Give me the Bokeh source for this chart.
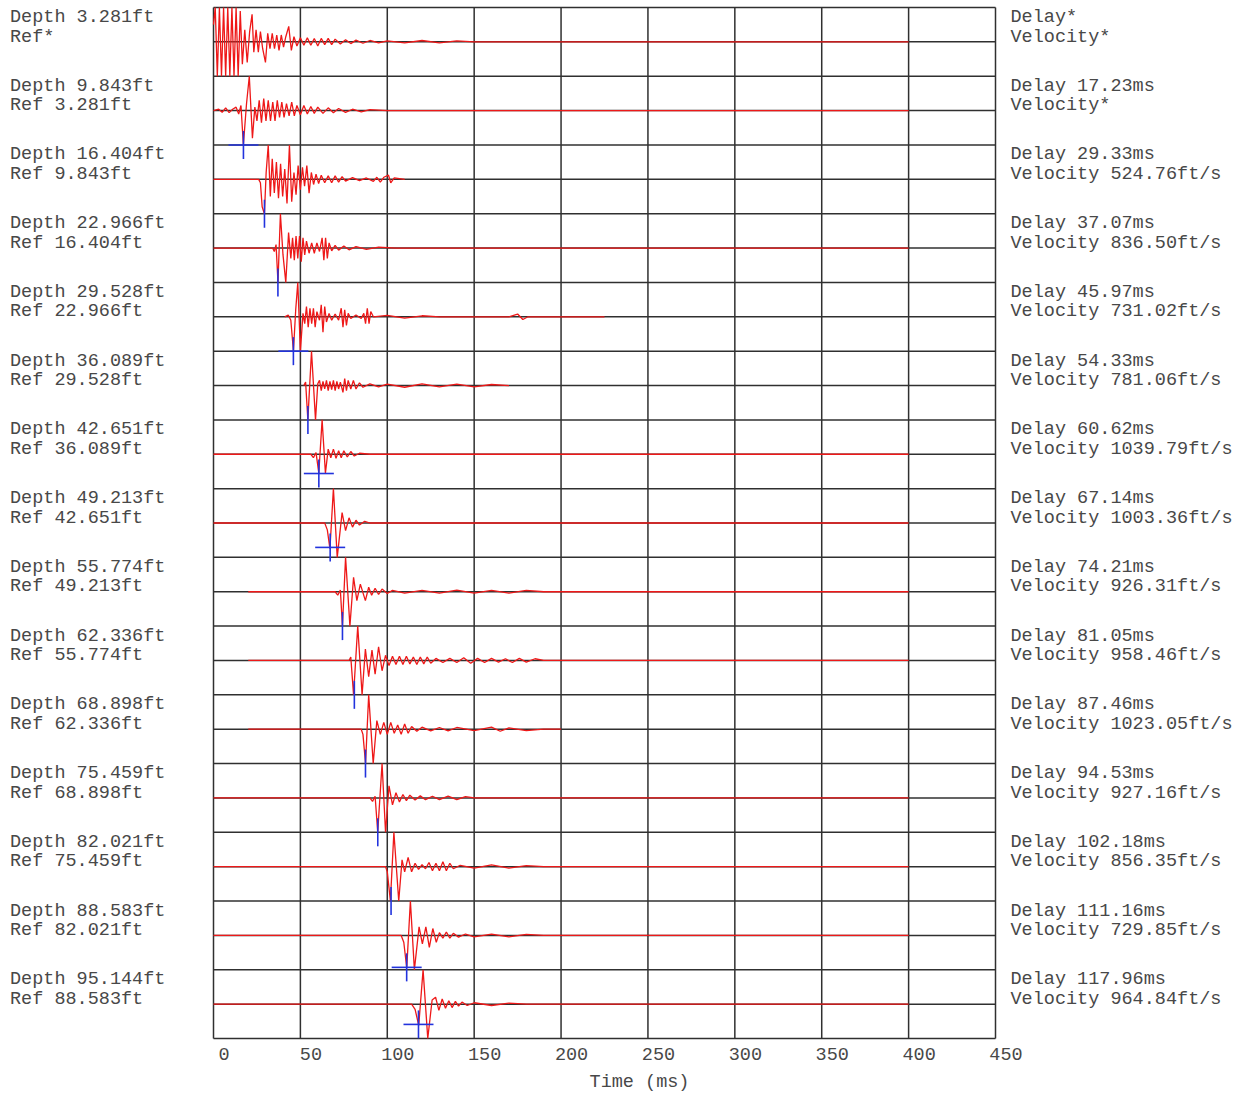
import numpy as np
from bokeh.plotting import figure
from bokeh.models import Range1d, ColumnDataSource
from bokeh.core.properties import value
from bokeh.embed import file_html
from bokeh.resources import INLINE

# ---------------- data ----------------
depths = ["3.281", "9.843", "16.404", "22.966", "29.528", "36.089", "42.651",
          "49.213", "55.774", "62.336", "68.898", "75.459", "82.021", "88.583", "95.144"]
delays = [None, "17.23", "29.33", "37.07", "45.97", "54.33", "60.62", "67.14",
          "74.21", "81.05", "87.46", "94.53", "102.18", "111.16", "117.96"]
velocities = [None, None, "524.76", "836.50", "731.02", "781.06", "1039.79", "1003.36",
              "926.31", "958.46", "1023.05", "927.16", "856.35", "729.85", "964.84"]
pick_times = [None, 17.23, 29.33, 37.07, 45.97, 54.33, 60.62, 67.14,
              74.21, 81.05, 87.46, 94.53, 102.18, 111.16, 117.96]
# amplitude of the pick mark (1 = half a row) and whether its horizontal bar shows
pick_amp = [None, -1, -1, -1, -1, -1, -0.56, -0.71, -1, -1, -1, -1, -1, -0.93, -0.59]
pick_bar = [False, True, False, False, True, False, True, True,
            False, False, False, False, False, True, True]
time_ticks = [0, 50, 100, 150, 200, 250, 300, 350, 400, 450]

# traces: (time ms, amplitude) ; amplitude 1 = half a row, values beyond +-1 are clipped
trace_01 = [(0, 0.5), (1, 1.3), (2.2, -1.3), (3.4, 1.3), (4.6, -1.3), (5.8, 1.3), (7.0, -1.3),
            (8.2, 1.3), (9.4, -1.3), (10.6, 1.3), (11.8, -1.3), (13.0, 1.2), (14.2, -1.3),
            (15.4, 0.9), (16.6, -0.65), (18.0, 0.35), (19.4, -0.6), (20.8, 0.3), (22.2, 0.8),
            (23.2, -0.3), (24.5, 0.35), (25.8, -0.3), (27.0, 0.3), (28.3, -0.2), (29.9, -0.6),
            (31.2, 0.25), (32.5, -0.2), (33.8, 0.25), (35.1, -0.2), (36.4, 0.2), (37.7, -0.25),
            (39.0, 0.2), (40.3, -0.15), (41.6, 0.15), (43.3, 0.45), (44.8, -0.25), (46.3, 0.15),
            (48, -0.12), (50, 0.12), (52, -0.1), (54, 0.12), (56, -0.1), (58, 0.1), (60, -0.12),
            (62, 0.1), (64, -0.08), (66, 0.1), (68, -0.08), (70, 0.08), (73, -0.06), (76, 0.06),
            (79, -0.05), (82, 0.05), (86, -0.04), (90, 0.04), (95, -0.03), (100, 0.03),
            (110, -0.03), (120, 0.04), (130, -0.03), (140, 0.03), (150, 0), (400, 0)]
trace_02 = [(0, 0), (3, 0.04), (5, -0.05), (7, 0.08), (9, -0.06), (11, 0.04), (13, 0.1),
            (14.5, -0.1), (15.8, 0.15), (17.2, -1.3), (19, 0.2), (20.6, 1.3), (22.4, -0.8),
            (23.8, 0.1), (25, -0.3), (26.3, 0.3), (27.6, -0.35), (28.9, 0.35), (30.2, -0.3),
            (31.5, 0.3), (32.8, -0.3), (34.1, 0.25), (35.4, -0.3), (36.7, 0.3), (38, -0.2),
            (39.3, 0.25), (40.6, -0.2), (42, 0.2), (43.5, -0.15), (45, 0.25), (46.5, -0.15),
            (48, 0.15), (50, -0.12), (52, 0.15), (54, -0.1), (56, 0.12), (58, -0.08), (60, 0.1),
            (63, -0.08), (66, 0.08), (69, -0.06), (72, 0.06), (76, -0.05), (80, 0.04),
            (85, -0.04), (90, 0.03), (100, 0), (400, 0)]
trace_03 = [(0, 0), (26, 0), (27, -0.1), (28, -0.8), (29.3, -1.3), (30.3, 0.2), (31.5, 1.3),
            (32.7, -0.5), (33.8, 0.6), (35, -0.4), (36.2, 0.5), (37.4, -0.55), (38.6, 0.45),
            (39.8, -0.5), (41, 0.3), (42.3, -0.7), (43.7, 1.3), (45, -0.65), (46.3, 0.2),
            (47.5, -0.45), (48.7, 0.4), (50, -0.3), (51.2, 0.35), (52.4, -0.2), (53.7, 0.4),
            (55, -0.4), (56.3, 0.2), (57.6, -0.15), (59, 0.15), (60.5, -0.12), (62, 0.12),
            (64, -0.1), (66, 0.1), (68, -0.1), (70, 0.1), (72, -0.08), (74, 0.08), (76, -0.05),
            (80, 0.05), (84, -0.04), (88, 0.04), (92, -0.06), (94, 0.06), (96, -0.08),
            (98, 0.06), (100.7, 0.12), (102, -0.1), (104, 0.04), (110, 0)]
trace_04 = [(0, 0), (34, 0), (35, -0.1), (36, 0.1), (37.1, -1.3), (38.5, 1.3), (40, -0.2),
            (41.6, -1.3), (43.2, 0.45), (44.5, -0.3), (45.5, 0.3), (46.5, -0.35), (47.5, 0.35),
            (48.5, -0.3), (49.5, 0.35), (50.5, -0.4), (51.5, 0.3), (52.5, -0.2), (53.5, 0.2),
            (55, -0.15), (56.5, 0.15), (58, -0.15), (59.5, 0.15), (61, -0.1), (62.5, 0.3),
            (63.5, -0.35), (64.5, 0.3), (65.5, -0.3), (66.5, 0.15), (68, -0.08), (70, 0.08),
            (72, -0.06), (75, 0.06), (78, -0.05), (82, 0.04), (88, -0.04), (95, 0.03),
            (105, 0), (400, 0)]
trace_05 = [(41, 0), (43, 0.05), (44.5, -0.1), (46, -1.3), (47.3, 0.2), (48.5, 1.3), (50, -1.3),
            (51.5, 0.1), (52.5, -0.2), (53.5, 0.3), (54.5, -0.3), (55.5, 0.25), (56.5, -0.2),
            (57.5, 0.25), (58.5, -0.3), (59.5, 0.15), (61, -0.1), (62, 0.35), (63, -0.45),
            (64, 0.3), (65, -0.15), (66.5, 0.1), (68, -0.1), (70, 0.08), (72, -0.1),
            (73.5, 0.25), (74.5, -0.3), (75.5, 0.2), (76.5, -0.25), (77.5, 0.1), (79, -0.05),
            (82, 0.05), (85, -0.05), (86.5, 0.1), (87.5, -0.2), (88.5, 0.25), (89.5, -0.2),
            (90.5, 0.15), (92, 0), (100, 0.04), (110, -0.04), (120, 0.03), (130, 0),
            (170, 0), (175, 0.08), (178, -0.08), (181, 0), (225, 0)]
trace_06 = [(52, 0), (53, 0.1), (54.3, -1.3), (56.4, 1.3), (58.7, -1.3), (60, 0.05), (61, 0.15),
            (62, -0.15), (63, 0.12), (64, -0.1), (65, 0.15), (66, -0.15), (67, 0.12), (68, -0.12),
            (69, 0.15), (70, -0.15), (71, 0.12), (72, -0.1), (73, 0.1), (74.5, -0.2), (75.5, 0.2),
            (76.5, -0.15), (77.5, 0.15), (79, -0.1), (80.5, 0.15), (82, -0.1), (84, 0.08),
            (86, -0.05), (90, 0.05), (95, -0.04), (100, 0.04), (110, -0.05), (120, 0.05),
            (130, -0.04), (140, 0.04), (150, -0.04), (160, 0.03), (170, 0)]
trace_07 = [(0, 0), (56, 0), (57.5, -0.1), (59, 0.05), (60.6, -0.55), (62.5, 1.3), (64.4, -0.55),
            (66, 0.15), (67.5, -0.1), (69, 0.15), (70.5, -0.12), (72, 0.1), (73.5, -0.1),
            (75, 0.1), (77, -0.08), (79, 0.08), (81, -0.05), (84, 0.03), (90, 0), (400, 0)]
trace_08 = [(0, 0), (64, 0), (65.5, -0.2), (67, -0.75), (69, 1.3), (71.2, -1.3), (74, 0.3),
            (76, -0.22), (78, 0.15), (80, -0.12), (82, 0.08), (84, -0.06), (87, 0.05),
            (90, 0), (400, 0)]
trace_09 = [(20, 0), (70, 0), (71.5, -0.1), (73, 0.05), (74.2, -1.3), (76, 1.3), (78.5, -1.3),
            (80.6, 0.42), (82.5, -0.26), (84.5, 0.22), (87.4, -0.26), (89.3, 0.13), (91, -0.1),
            (93, 0.1), (95, -0.08), (97, 0.08), (100, -0.05), (103, 0.04), (110, -0.04),
            (120, 0.04), (130, -0.04), (140, 0.05), (150, -0.04), (160, 0.04), (170, -0.04),
            (180, 0.04), (190, 0), (400, 0)]
trace_10 = [(20, 0), (78, 0), (79, 0.1), (80.6, -1.3), (83, 1.3), (85.5, -1.3), (87.4, 0.33),
            (89.3, -0.47), (91.2, 0.3), (93, -0.4), (95, 0.4), (97, -0.3), (99, 0.15),
            (101, -0.15), (103, 0.12), (105, -0.12), (107, 0.12), (109, -0.12), (111, 0.12),
            (113, -0.1), (115, 0.1), (117, -0.12), (119, 0.1), (121, -0.1), (123, 0.1),
            (125, -0.08), (128, 0.06), (132, -0.06), (136, 0.06), (140, -0.06), (144, 0.08),
            (148, -0.08), (152, 0.06), (156, -0.06), (160, 0.06), (164, -0.05), (168, 0.05),
            (172, -0.06), (176, 0.06), (180, -0.05), (185, 0.05), (190, 0), (400, 0)]
trace_11 = [(20, 0), (85, 0), (86, -0.15), (87.5, -1.3), (89.3, 1.1), (91.9, -1.3), (94, 0.25),
            (96, -0.15), (98, 0.2), (100, -0.15), (102, 0.2), (104, -0.12), (106, 0.12),
            (108, -0.15), (110, 0.15), (112, -0.12), (114, 0.08), (117, -0.06), (120, 0.06),
            (125, -0.05), (130, 0.05), (135, -0.05), (140, 0.05), (150, -0.04), (160, 0.06),
            (165, -0.06), (170, 0.04), (180, -0.04), (190, 0), (200, 0)]
trace_12 = [(0, 0), (90, 0), (91.5, -0.1), (93, 0.05), (94.5, -1.0), (97, 1.3), (99, -1.3),
            (101, 0.35), (103, -0.2), (105, 0.15), (107, -0.12), (109, 0.1), (111, -0.08),
            (113, 0.08), (116, -0.06), (119, 0.06), (122, -0.05), (126, 0.05), (130, -0.05),
            (135, 0.05), (140, -0.05), (145, 0.04), (150, 0), (400, 0)]
trace_13 = [(0, 0), (99, 0), (100, -0.15), (101.8, -1.3), (103.8, 1.3), (106.6, -1.3),
            (108.5, 0.2), (110, -0.15), (112, 0.27), (114, -0.15), (116, 0.1), (118, -0.08),
            (120, 0.06), (122, -0.06), (124, 0.12), (126, -0.12), (128, 0.1), (130, -0.12),
            (132, 0.14), (134, -0.12), (136, 0.1), (138, -0.06), (142, 0.04), (150, -0.04),
            (160, 0.05), (170, -0.04), (180, 0.03), (190, 0), (400, 0)]
trace_14 = [(0, 0), (108, 0), (109.5, -0.2), (111.2, -0.95), (113.3, 1.3), (115.6, -1.3),
            (118.3, 0.25), (120.2, -0.25), (122.2, 0.25), (124.2, -0.35), (126.2, 0.2),
            (128.2, -0.2), (130, 0.08), (132, -0.08), (134, 0.1), (136, -0.08), (138, 0.06),
            (141, -0.05), (145, 0.04), (150, -0.04), (160, 0.04), (170, -0.04), (180, 0.03),
            (190, 0), (400, 0)]
trace_15 = [(0, 0), (114, 0), (116, -0.15), (118.1, -0.62), (120.6, 1.3), (123.3, -1.3),
            (125.8, 0.12), (127.8, 0.2), (129.7, -0.18), (131.6, 0.15), (133.5, -0.12),
            (135.4, 0.1), (137.3, -0.1), (139.2, 0.08), (141, -0.06), (143, 0.06), (146, -0.04),
            (150, 0.04), (160, -0.04), (170, 0.03), (180, 0), (400, 0)]
traces = [trace_01, trace_02, trace_03, trace_04, trace_05, trace_06, trace_07, trace_08,
          trace_09, trace_10, trace_11, trace_12, trace_13, trace_14, trace_15]

# ---------------- layout constants (pixels) ----------------
n = len(depths)
W, H = 1240, 1092
LEFT, TOP = 213, 7              # top-left corner of the trace panel
PANEL_W, PANEL_H = 782, 1031
PX_MS = PANEL_W / (time_ticks[-1] - time_ticks[0])
PX_ROW = PANEL_H / n

FONT = "Liberation Mono"
FS = "18.5px"
TXT = "#484848"
GRID = "#303030"
RED = "#ee1818"
BLUE = "#2233dd"


def xpx(px):      # page pixel -> data x
    return (px - LEFT) / PX_MS


def ypx(px):      # page pixel -> data y
    return n - (px - TOP) / PX_ROW


p = figure(width=W, height=H, x_range=Range1d(xpx(0), xpx(W)), y_range=Range1d(ypx(H), ypx(0)),
           x_axis_location=None, y_axis_location=None, toolbar_location=None,
           output_backend="svg", min_border=0)
p.outline_line_color = None
p.xgrid.visible = False
p.ygrid.visible = False
p.background_fill_color = "white"
p.border_fill_color = "white"

# panel grid: vertical at time ticks, horizontal at row bounds and row baselines
t0, t1 = time_ticks[0], time_ticks[-1]
p.segment(x0=time_ticks, y0=[0] * len(time_ticks), x1=time_ticks, y1=[n] * len(time_ticks),
          line_color=GRID, line_width=1.5)
hy = [0.5 * k for k in range(0, 2 * n + 1)]
p.segment(x0=[t0] * len(hy), y0=hy, x1=[t1] * len(hy), y1=hy, line_color=GRID, line_width=1.5)

# traces
for i, tr in enumerate(traces):
    base = n - 0.5 - i
    t = np.array([q[0] for q in tr], dtype=float)
    a = np.array([q[1] for q in tr], dtype=float)
    y = base + 0.5 * np.clip(a, -1.0, 1.0)
    p.line(t, y, line_color=RED, line_width=1.3)

# picks
half_h = 14 / PX_ROW
half_w = 15 / PX_MS
vx, vy0, vy1, bx0, bx1, by = [], [], [], [], [], []
for i in range(n):
    if pick_times[i] is None:
        continue
    cy = n - 0.5 - i + 0.5 * pick_amp[i]
    vx.append(pick_times[i]); vy0.append(cy - half_h); vy1.append(cy + half_h)
    if pick_bar[i]:
        bx0.append(pick_times[i] - half_w); bx1.append(pick_times[i] + half_w); by.append(cy)
p.segment(x0=vx, y0=vy0, x1=vx, y1=vy1, line_color=BLUE, line_width=1.6)
p.segment(x0=bx0, y0=by, x1=bx1, y1=by, line_color=BLUE, line_width=1.6)

# texts
tx, ty, tt, ta = [], [], [], []
for i in range(n):
    top_px = TOP + i * PX_ROW
    tx += [xpx(9.5), xpx(9.5), xpx(1010), xpx(1010)]
    ty += [ypx(top_px + 10), ypx(top_px + 29.5), ypx(top_px + 10), ypx(top_px + 29.5)]
    tt += [f"Depth {depths[i]}ft",
           "Ref*" if i == 0 else f"Ref {depths[i-1]}ft",
           "Delay*" if delays[i] is None else f"Delay {delays[i]}ms",
           "Velocity*" if velocities[i] is None else f"Velocity {velocities[i]}ft/s"]
    ta += ["left"] * 4
for tk in time_ticks:
    tx.append(tk + 10.5 / PX_MS); ty.append(ypx(TOP + PANEL_H + 15)); tt.append(str(tk)); ta.append("center")
tx.append(xpx(639)); ty.append(ypx(TOP + PANEL_H + 44)); tt.append("Time (ms)"); ta.append("center")

src = ColumnDataSource(dict(x=tx, y=ty, text=tt, align=ta))
p.text(x="x", y="y", text="text", text_align="align", source=src,
       text_font=value(FONT), text_font_size=value(FS), text_color=TXT,
       text_baseline="middle")

open("out.html", "w").write(file_html(p, INLINE))
